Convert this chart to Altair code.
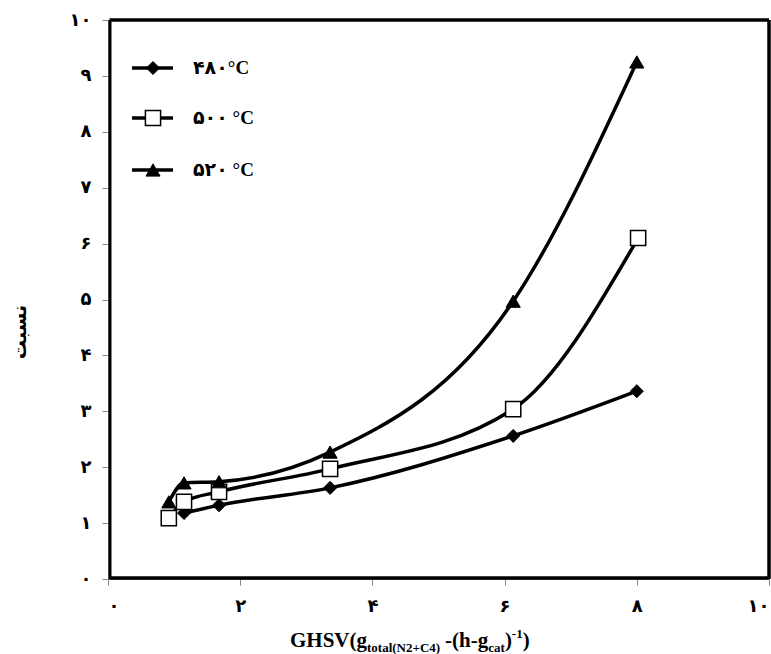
import altair as alt
import pandas as pd

# ---- data ----
x_480 = [1.15, 1.68, 3.36, 6.13, 8.0]
y_480 = [1.18, 1.32, 1.63, 2.56, 3.36]

x_500 = [0.92, 1.15, 1.68, 3.36, 6.13, 8.02]
y_500 = [1.09, 1.38, 1.56, 1.97, 3.04, 6.10]

x_520 = [0.92, 1.15, 1.68, 3.36, 6.13, 8.0]
y_520 = [1.38, 1.72, 1.74, 2.27, 4.97, 9.25]

series_names = ["۴۸۰°C", "۵۰۰ °C", "۵۲۰ °C"]
persian_digits = ["۰", "۱", "۲", "۳", "۴", "۵", "۶", "۷", "۸", "۹", "۱۰"]
x_ticks = [0, 2, 4, 6, 8, 10]
y_ticks = list(range(11))
y_title = "نسبت"

FONT = "Liberation Serif, DejaVu Sans"
W, H = 661, 559

rows = []
for name, xs, ys in zip(series_names, [x_480, x_500, x_520], [y_480, y_500, y_520]):
    for a, b in zip(xs, ys):
        rows.append({"series": name, "x": a, "y": b})
df = pd.DataFrame(rows)

label_expr = "[" + ",".join("'%s'" % d for d in persian_digits) + "][datum.value]"

xenc = alt.X("x:Q", scale=alt.Scale(domain=[0, 10], nice=False),
             axis=alt.Axis(values=x_ticks, labelExpr=label_expr, title=None, grid=False,
                           domainColor="#888", tickColor="#888", tickSize=6,
                           labelFont=FONT, labelFontSize=18, labelFontWeight="bold",
                           labelColor="black", labelPadding=12))
yenc = alt.Y("y:Q", scale=alt.Scale(domain=[0, 10], nice=False),
             axis=alt.Axis(values=y_ticks, labelExpr=label_expr, title=None, grid=False,
                           domainColor="#888", tickColor="#888", tickSize=6,
                           labelFont=FONT, labelFontSize=18, labelFontWeight="bold",
                           labelColor="black", labelPadding=11))

one = pd.DataFrame({"a": [0]})

# ---- plot frame (thick black border) ----
frame = [
    alt.Chart(one).mark_rule(color="black", strokeWidth=3.5).encode(
        x=alt.value(1.5), x2=alt.value(W), y=alt.value(0)),
    alt.Chart(one).mark_rule(color="black", strokeWidth=3.5).encode(
        x=alt.value(1.5), x2=alt.value(W), y=alt.value(H - 1)),
    alt.Chart(one).mark_rule(color="black", strokeWidth=3).encode(
        x=alt.value(2), y=alt.value(0), y2=alt.value(H)),
    alt.Chart(one).mark_rule(color="black", strokeWidth=3.5).encode(
        x=alt.value(W), y=alt.value(0), y2=alt.value(H)),
]

base = alt.Chart(df)
lines = base.mark_line(interpolate="monotone", color="black", strokeWidth=3.5).encode(
    x=xenc, y=yenc, detail="series:N")

marker_styles = [
    dict(shape="diamond", filled=True, fill="black", stroke="black", size=170, strokeWidth=1),
    dict(shape="square", filled=True, fill="white", stroke="black", size=230, strokeWidth=1.5),
    dict(shape="triangle-up", filled=True, fill="black", stroke="black", size=200, strokeWidth=1),
]

layers = [lines] + frame
for name, st in zip(series_names, marker_styles):
    layers.append(
        base.transform_filter(alt.datum.series == name)
        .mark_point(opacity=1, **st)
        .encode(x="x:Q", y="y:Q")
    )

# ---- legend (manual) ----
leg_y = [48, 98, 150]
for name, st, ly in zip(series_names, marker_styles, leg_y):
    layers.append(alt.Chart(one).mark_rule(color="black", strokeWidth=3.5).encode(
        x=alt.value(24), x2=alt.value(65), y=alt.value(ly)))
    layers.append(alt.Chart(one).mark_point(opacity=1, **st).encode(
        x=alt.value(45), y=alt.value(ly)))
    layers.append(alt.Chart(one).mark_text(
        align="left", baseline="middle", font=FONT, fontSize=19, fontWeight="bold", color="black"
    ).encode(x=alt.value(85), y=alt.value(ly), text=alt.value(name)))

# ---- y title ----
layers.append(alt.Chart(one).mark_text(
    angle=270, align="center", baseline="middle", font=FONT, fontSize=19, fontWeight="bold", color="black"
).encode(x=alt.value(-88), y=alt.value(312), text=alt.value(y_title)))

# ---- x title with sub/superscripts ----
title_parts = [
    ("GHSV(g", 21, 0),
    ("total(N2+C4)", 13, 5),
    ("-(h-g", 21, 0),
    ("cat", 13, 5),
    (")", 21, 0),
    ("-1", 13, -9),
    (")", 21, 0),
]
char_w = {"G": 778, "H": 778, "S": 556, "V": 722, "(": 333, ")": 333, "g": 500, "t": 333,
          "o": 500, "a": 500, "l": 278, "N": 722, "2": 500, "+": 570, "C": 722, "4": 500,
          "-": 333, "h": 556, "c": 444, "1": 500, " ": 250}
tx = 182
for i, (txt, fs, dy) in enumerate(title_parts):
    if i == 2:
        tx += 5
    layers.append(alt.Chart(one).mark_text(
        align="left", baseline="alphabetic", font=FONT, fontSize=fs, fontWeight="bold", color="black"
    ).encode(x=alt.value(tx), y=alt.value(627 + dy), text=alt.value(txt)))
    tx += sum(char_w.get(c, 500) for c in txt) * fs / 1000.0

chart = alt.layer(*layers).properties(
    width=W, height=H,
    background="white",
    autosize=alt.AutoSizeParams(type="none"),
    padding={"left": 108, "top": 20, "right": 2, "bottom": 75},
).configure_view(stroke=None)

chart.save("out.html", embed_options={"renderer": "svg", "actions": False})
